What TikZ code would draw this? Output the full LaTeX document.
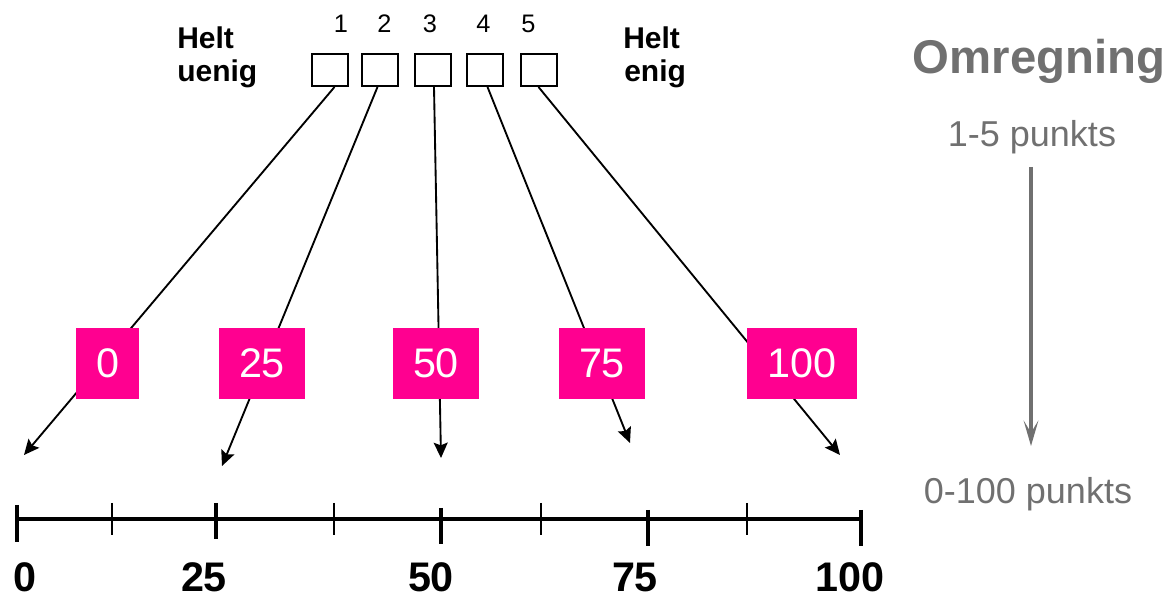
\documentclass[tikz,border=0pt]{standalone}
\usepackage{fontspec}
\setmainfont{Liberation Sans}
\usetikzlibrary{arrows.meta,calc}
\definecolor{pinkbox}{HTML}{FF0090}
\definecolor{greytxt}{HTML}{707070}
\begin{document}
\begin{tikzpicture}[x=0.75pt,y=-0.75pt,
  ansbox/.style={draw=black,line width=1.5pt,minimum width=27pt,minimum height=24pt,inner sep=0pt},
  numlbl/.style={anchor=base,inner sep=0pt,font=\fontsize{19}{23}\selectfont},
  endlbl/.style={inner sep=0pt,anchor=base west,font=\bfseries\fontsize{22.5}{27}\selectfont},
  scorebox/.style={fill=pinkbox,text=white,minimum height=53.25pt,inner sep=0pt,font=\fontsize{31}{37}\selectfont},
  conn/.style={line width=1.4pt,-{Stealth[length=11.5pt,width=10.5pt,inset=2pt]}},
  axislbl/.style={anchor=base,inner sep=0pt,font=\bfseries\fontsize{31}{37}\selectfont},
  majortick/.style={line width=3pt},
  minortick/.style={line width=1.5pt},
  greylbl/.style={anchor=base,inner sep=0pt,text=greytxt,font=\fontsize{27}{32}\selectfont},
]
\useasboundingbox (0,0) rectangle (1172,598);

% answer boxes
\node[ansbox] (b1) at (329.5,70) {};
\node[ansbox] (b2) at (380,70) {};
\node[ansbox] (b3) at (433,70) {};
\node[ansbox] (b4) at (484.5,70) {};
\node[ansbox] (b5) at (538.5,70) {};

% numbers above
\node[numlbl] (n1) at (341,33) {1};
\node[numlbl] (n2) at (384.5,33) {2};
\node[numlbl] (n3) at (430,33) {3};
\node[numlbl] (n4) at (483.5,33) {4};
\node[numlbl] (n5) at (528.5,33) {5};

% end labels
\node[endlbl] (hu1) at (177,49) {Helt};
\node[endlbl] (hu2) at (177,82) {uenig};
\node[endlbl] (he1) at (623,49) {Helt};
\node[endlbl] (he2) at (624,82) {enig};

% arrow tips
\coordinate (t0) at (24,455);
\coordinate (t25) at (222,466);
\coordinate (t50) at (441,458);
\coordinate (t75) at (630,443);
\coordinate (t100) at (840,455);

% connectors (behind score boxes)
\draw[conn] ($(b1.south)+(5,0)$) -- (t0);
\draw[conn] ($(b2.south)+(-2.5,0)$) -- (t25);
\draw[conn] ($(b3.south)+(1,0)$) -- (t50);
\draw[conn] ($(b4.south)+(3,0)$) -- (t75);
\draw[conn] (b5.south) -- (t100);

% score boxes
\node[scorebox,minimum width=47.25pt] (p0) at (107.5,363.5) {0};
\node[scorebox,minimum width=64.5pt] (p25) at (262,363.5) {25};
\node[scorebox,minimum width=64.5pt] (p50) at (436,363.5) {50};
\node[scorebox,minimum width=64.5pt] (p75) at (602,363.5) {75};
\node[scorebox,minimum width=82.5pt] (p100) at (802,363.5) {100};

% axis
\coordinate (a0) at (17,519);
\coordinate (a100) at (860.5,519);
\draw[line width=3pt] (a0) -- (a100);
\draw[majortick] (17,505) -- (17,542);
\draw[majortick] (216,503) -- (216,539);
\draw[majortick] (441,508) -- (441,544);
\draw[majortick] (648,510) -- (648,546);
\draw[majortick] (860.5,510) -- (860.5,546);
\draw[minortick] (112,503) -- (112,535);
\draw[minortick] (334,503) -- (334,535);
\draw[minortick] (541,503) -- (541,535);
\draw[minortick] (747,503) -- (747,535);

% axis labels
\node[axislbl] (l0) at (25,592) {0};
\node[axislbl] (l25) at (204,592) {25};
\node[axislbl] (l50) at (431,592) {50};
\node[axislbl] (l75) at (635,592) {75};
\node[axislbl] (l100) at (850,592) {100};

% right side
\node[anchor=base,inner sep=0pt,text=greytxt,font=\bfseries\fontsize{35.5}{42}\selectfont] (om) at (1039,73.3) {Omregning};
\node[greylbl] (g1) at (1032,147) {1-5 punkts};
\node[greylbl] (g2) at (1028,504) {0-100 punkts};
\coordinate (gs) at (1031,167);
\coordinate (ge) at (1031,446);
\draw[draw=greytxt,line width=3.4pt,-{Stealth[length=19pt,width=11pt,inset=9pt]}] (gs) -- (ge);
\end{tikzpicture}
\end{document}
